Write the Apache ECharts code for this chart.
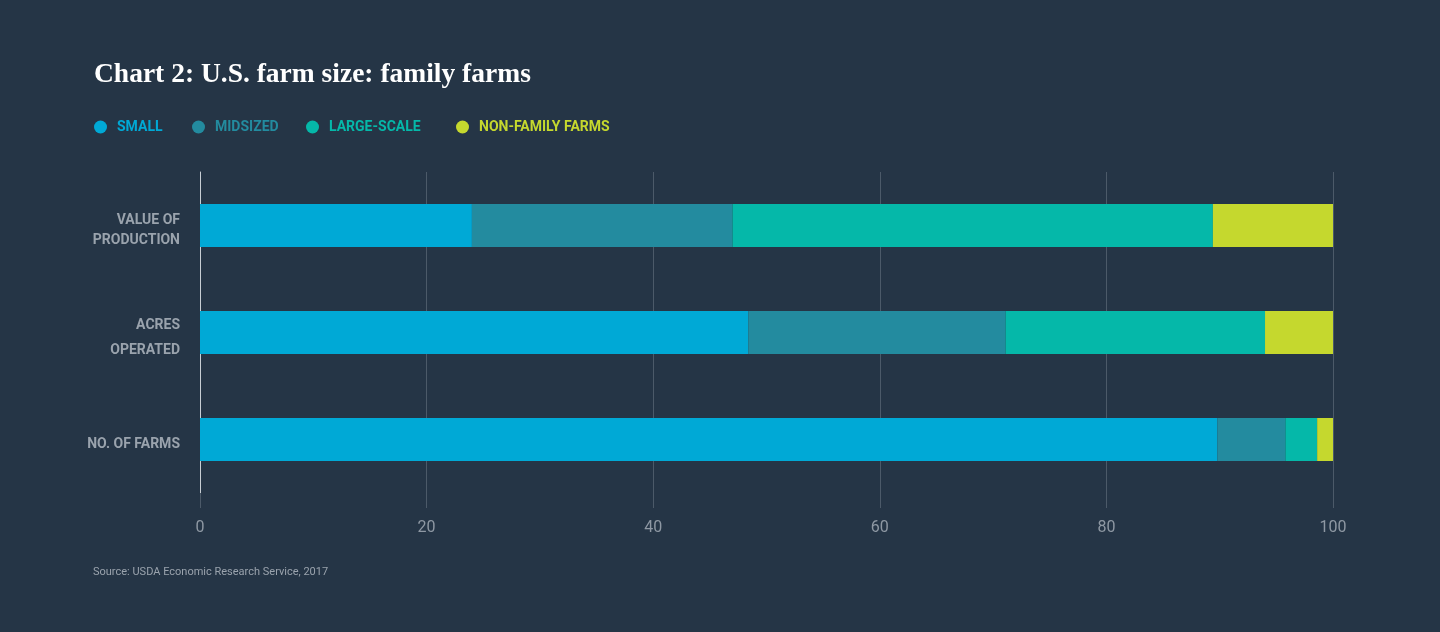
<!DOCTYPE html>
<html>
<head>
<meta charset="utf-8">
<script src="https://cdn.jsdelivr.net/npm/echarts@6/dist/echarts.min.js"></script>
<style>
html,body{margin:0;padding:0;background:#253546;}
#c{width:1440px;height:632px;}
</style>
</head>
<body>
<div id="c"></div>
<script>
var categories = ['NO. OF FARMS', 'ACRES\nOPERATED', 'VALUE OF\nPRODUCTION'];
var seriesNames = ['SMALL', 'MIDSIZED', 'LARGE-SCALE', 'NON-FAMILY FARMS'];
var small = [89.8, 48.4, 24.0];
var midsized = [6.0, 22.7, 23.0];
var largeScale = [2.8, 22.9, 42.4];
var nonFamily = [1.4, 6.0, 10.6];
var xTicks = [0, 20, 40, 60, 80, 100];

var colors = ['#00a9d6', '#238b9f', '#05b8a9', '#c5d82e'];
var values = [small, midsized, largeScale, nonFamily];
var condensed = "Roboto, 'Liberation Sans', sans-serif";
var legendLeft = [89, 187, 301, 451];

var chart = echarts.init(document.getElementById('c'));
chart.setOption({
  backgroundColor: '#253546',
  animation: false,
  title: {
    text: 'Chart 2: U.S. farm size: family farms',
    left: 89, top: 56,
    textStyle: { color: '#ffffff', fontFamily: "'Liberation Serif', 'DejaVu Serif', serif", fontWeight: 'bold', fontSize: 27.5 }
  },
  legend: seriesNames.map(function (n, i) {
    return {
      data: [{ name: n, textStyle: { color: colors[i] } }],
      left: legendLeft[i], top: 115,
      icon: 'circle', itemWidth: 13, itemHeight: 13, itemGap: 0,
      textStyle: { fontFamily: condensed, fontWeight: 'bold', fontSize: 14, padding: [0, 0, 0, 5] }
    };
  }),
  graphic: [{
    type: 'text', left: 93, top: 567,
    style: { text: 'Source: USDA Economic Research Service, 2017', fill: '#9aa3ad', font: "11px " + condensed }
  }],
  grid: { left: 200, right: 107, top: 172, height: 321, containLabel: false },
  xAxis: {
    type: 'value', min: 0, max: 100, interval: 20,
    axisLine: { show: false },
    axisTick: { show: true, length: 15, lineStyle: { color: '#4c5a69' } },
    splitLine: { show: true, lineStyle: { color: '#4c5a69', width: 1 } },
    axisLabel: {
      margin: 27, color: '#8e98a3', fontSize: 16, fontFamily: "Roboto, 'DejaVu Sans', sans-serif",
      formatter: function (v) { return xTicks.indexOf(v) >= 0 ? String(v) : ''; }
    }
  },
  yAxis: {
    type: 'category', data: categories,
    axisLine: { show: true, lineStyle: { color: '#c8ced4', width: 1 } },
    axisTick: { show: false },
    axisLabel: {
      margin: 20, color: '#9aa3ad', fontFamily: condensed, fontWeight: 'bold', fontSize: 14,
      align: 'right', padding: [10, 0, 0, 0],
      formatter: function (v) {
        var p = v.split('\n');
        if (p.length === 1) return '{a|' + p[0] + '}';
        if (p[0] === 'ACRES') return '{b|' + p[0] + '}\n{b|' + p[1] + '}';
        return '{a|' + p[0] + '}\n{a|' + p[1] + '}';
      },
      rich: {
        a: { color: '#9aa3ad', fontFamily: condensed, fontWeight: 'bold', fontSize: 14, lineHeight: 20, align: 'right' },
        b: { color: '#9aa3ad', fontFamily: condensed, fontWeight: 'bold', fontSize: 14, lineHeight: 25, align: 'right' }
      }
    }
  },
  series: seriesNames.map(function (n, i) {
    return {
      name: n, type: 'bar', stack: 'total', barWidth: 43,
      data: values[i],
      itemStyle: { color: colors[i] },
      emphasis: { disabled: true }
    };
  })
});
</script>
</body>
</html>
